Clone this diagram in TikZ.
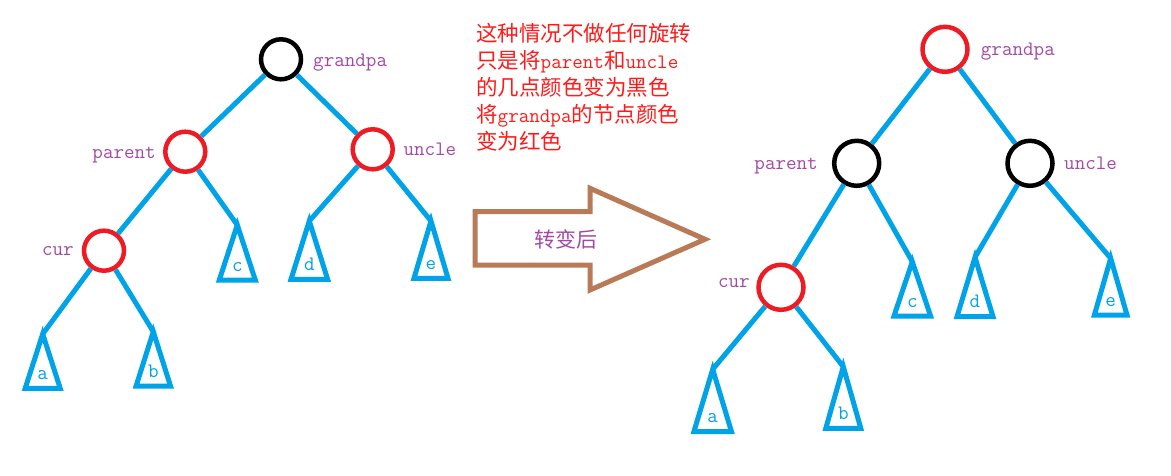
\documentclass[tikz,border=0pt]{standalone}
\usepackage{fontspec}
\newfontfamily\cjk{Noto Sans CJK SC}
\newcommand\lat{\ttfamily\fontsize{20.5}{24}\selectfont}
\definecolor{pblue}{HTML}{00A2E8}
\definecolor{pred}{HTML}{ED1C24}
\definecolor{ppurple}{HTML}{A349A4}
\definecolor{pbrown}{HTML}{B97A57}
\definecolor{tred}{HTML}{FF1A1A}
\newcommand\subtr[7]{%
  \coordinate (#1) at (#2,#3);
  \draw[tri] (#1) -- ++(-#4,#5) -- ++(2*#4,0) -- cycle;
  \node[leaf] (#7) at (#2,#3+#5-9) {#6};}
\begin{document}
\begin{tikzpicture}[x=1pt,y=-1pt,
  rbL/.style={circle,draw=pred,line width=4.5pt,minimum size=40pt,inner sep=0pt},
  bbL/.style={circle,draw=black,line width=4.5pt,minimum size=40pt,inner sep=0pt},
  rbR/.style={circle,draw=pred,line width=4.5pt,minimum size=45pt,inner sep=0pt},
  bbR/.style={circle,draw=black,line width=4.5pt,minimum size=45pt,inner sep=0pt},
  edge/.style={draw=pblue,line width=5pt},
  tri/.style={draw=pblue,line width=5pt,line join=miter},
  leaf/.style={anchor=base,inner sep=0pt,text=pblue,font=\lat},
  lbl/.style={inner sep=0pt,text=ppurple,font=\lat},
  note/.style={anchor=base west,inner sep=0pt,text=tred,font={\fontsize{21.5}{27}\selectfont}},
  arr/.style={draw=pbrown,line width=5pt,line join=miter}]
\useasboundingbox (0,0) rectangle (1171,476);
% ---------- left tree ----------
\node[bbL] (gpL) at (281,59.3) {};
\node[rbL] (pL) at (185.3,151.7) {};
\node[rbL] (uL) at (372.7,149.3) {};
\node[rbL] (cuL) at (104,250.7) {};
\node[lbl,anchor=base west] (gpLt) at (313,66.7) {grandpa};
\node[lbl,anchor=base east] (pLt) at (156,158.3) {parent};
\node[lbl,anchor=base west] (uLt) at (403.3,156) {uncle};
\node[lbl,anchor=base east] (cuLt) at (74,255) {cur};
\subtr{aL}{42.7}{334}{17.5}{54.3}{a}{aLt}
\subtr{bL}{153.3}{331.7}{17.2}{54.3}{b}{bLt}
\subtr{cL}{237.3}{225}{18}{55}{c}{cLt}
\subtr{dL}{309.3}{221}{18.3}{58.3}{d}{dLt}
\subtr{eL}{431}{221}{17}{57.3}{e}{eLt}
\draw[edge] (gpL) -- (pL);
\draw[edge] (gpL) -- (uL);
\draw[edge] (pL) -- (cuL);
\draw[edge] (pL) -- (cL);
\draw[edge] (uL) -- (dL);
\draw[edge] (uL) -- (eL);
\draw[edge] (cuL) -- (aL);
\draw[edge] (cuL) -- (bL);
% ---------- note ----------
\node[note] (n1) at (476,42) {\cjk 这种情况不做任何旋转};
\node[note] (n2) at (476,69) {{\cjk 只是将}{\lat parent}{\cjk 和}{\lat uncle}};
\node[note] (n3) at (476,96) {\cjk 的几点颜色变为黑色};
\node[note] (n4) at (476,123) {{\cjk 将}{\lat grandpa}{\cjk 的节点颜色}};
\node[note] (n5) at (476,150) {\cjk 变为红色};
% ---------- arrow ----------
\draw[arr] (475,211.7) -- (590,211.7) -- (590,188.3) -- (705,239.3) -- (590,290) -- (590,265) -- (475,265) -- cycle;
\node[inner sep=0pt,text=ppurple,font={\cjk\fontsize{21}{24}\selectfont}] (after) at (566,239.3) {转变后};
% ---------- right tree ----------
\node[rbR] (gpR) at (945,49.3) {};
\node[bbR] (pR) at (856.7,163.3) {};
\node[bbR] (uR) at (1030,163.3) {};
\node[rbR] (cuR) at (781,287.3) {};
\node[lbl,anchor=base west] (gpRt) at (980.7,55.7) {grandpa};
\node[lbl,anchor=base east] (pRt) at (818,169.3) {parent};
\node[lbl,anchor=base west] (uRt) at (1064,169.3) {uncle};
\node[lbl,anchor=base east] (cuRt) at (750,287.7) {cur};
\subtr{aR}{712.7}{369.3}{18.8}{62.4}{a}{aRt}
\subtr{bR}{843.3}{366.7}{17.5}{61.6}{b}{bRt}
\subtr{cR}{912.3}{261.7}{18.3}{54.3}{c}{cRt}
\subtr{dR}{975}{257.3}{18}{59.4}{d}{dRt}
\subtr{eR}{1110.7}{258.3}{16.3}{56.7}{e}{eRt}
\draw[edge] (gpR) -- (pR);
\draw[edge] (gpR) -- (uR);
\draw[edge] (pR) -- (cuR);
\draw[edge] (pR) -- (cR);
\draw[edge] (uR) -- (dR);
\draw[edge] (uR) -- (eR);
\draw[edge] (cuR) -- (aR);
\draw[edge] (cuR) -- (bR);
\end{tikzpicture}
\end{document}
